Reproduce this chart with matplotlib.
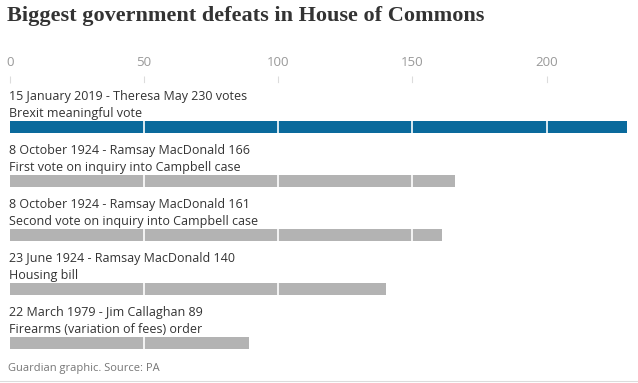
import matplotlib
matplotlib.use('Agg')
import matplotlib.pyplot as plt

# data
headers = ['15 January 2019 - Theresa May 230 votes',
           '8 October 1924 - Ramsay MacDonald 166',
           '8 October 1924 - Ramsay MacDonald 161',
           '23 June 1924 - Ramsay MacDonald 140',
           '22 March 1979 - Jim Callaghan 89']
motions = ['Brexit meaningful vote',
           'First vote on inquiry into Campbell case',
           'Second vote on inquiry into Campbell case',
           'Housing bill',
           'Firearms (variation of fees) order']
votes = [230, 166, 161, 140, 89]
ticks = [0, 50, 100, 150, 200]

W, H = 638, 383
fig = plt.figure(figsize=(W / 100, H / 100), dpi=100)
plt.rcParams['font.family'] = ['Open Sans', 'DejaVu Sans']

# axes placed in pixel terms
left, right, top, bottom = 10, 627, 83, 355
ax = fig.add_axes([left / W, 1 - bottom / H, (right - left) / W, (bottom - top) / H])

colors = ['#0a6a9c'] + ['#b3b3b3'] * (len(votes) - 1)
rows = list(range(len(votes)))
ax.barh(rows, votes, height=0.222, color=colors, zorder=1)
for t in ticks[1:]:
    ax.axvline(t, color='white', lw=1.2, zorder=2)

for i, (h, m) in enumerate(zip(headers, motions)):
    ax.text(-0.5, i - 0.556, h, fontsize=9.0, color='#333333', va='center', ha='left', zorder=3)
    ax.text(-0.5, i - 0.259, m, fontsize=9.0, color='#333333', va='center', ha='left', zorder=3)

ax.set_xlim(0, 230)
ax.set_ylim(4.222, -0.815)
for s in ax.spines.values():
    s.set_visible(False)
ax.set_yticks([])
ax.xaxis.tick_top()
ax.set_xticks(ticks)
ax.set_xticklabels([str(t) for t in ticks])
ax.tick_params(axis='x', direction='out', length=5, width=0.8, color='#dcdcdc',
               labelcolor='#999999', labelsize=9.5, pad=5)

fig.text(7 / W, 1 - 16 / H, 'Biggest government defeats in House of Commons',
         fontsize=16, fontweight='bold', family='Liberation Serif', color='#333333', va='center')
fig.text(8 / W, 1 - 368 / H, 'Guardian graphic. Source: PA', fontsize=8, color='#767676', va='center')
fig.add_artist(plt.Line2D([0, 1], [1 - 381 / H] * 2, color='#dcdcdc', lw=0.8))

plt.savefig('out.png', dpi=100)
